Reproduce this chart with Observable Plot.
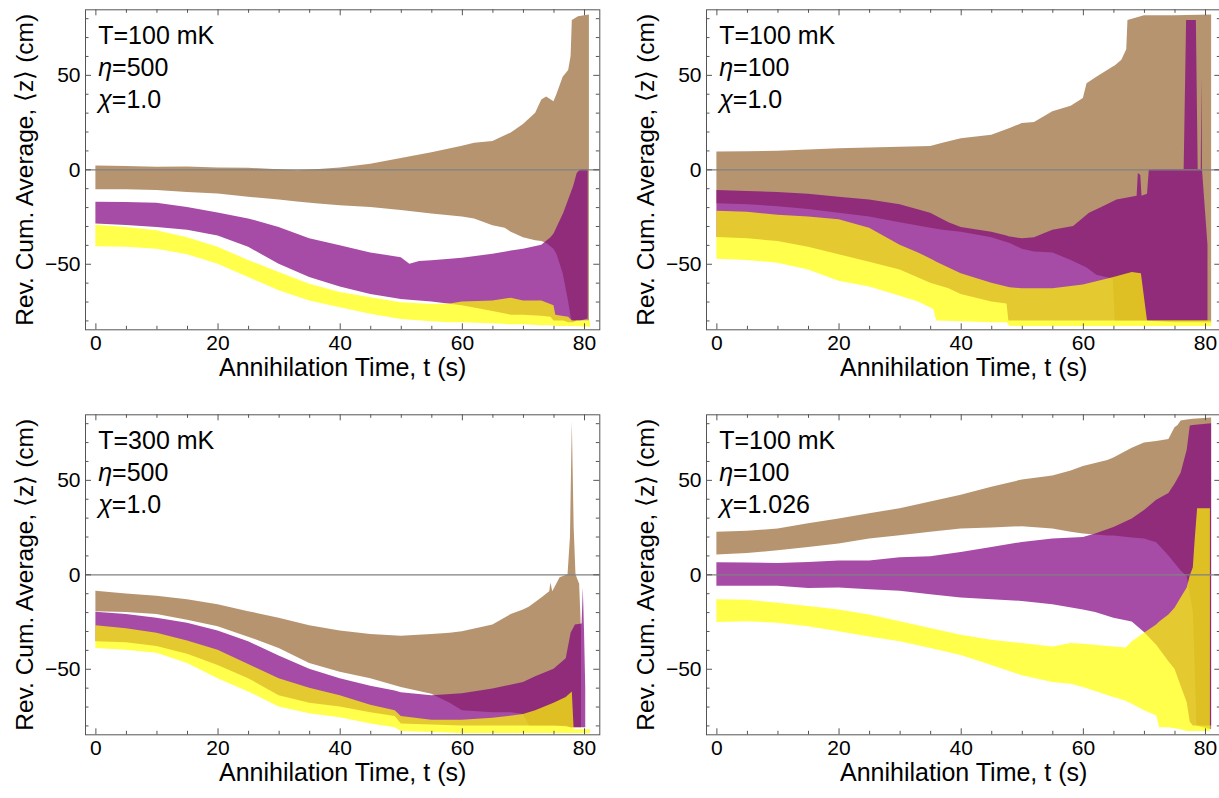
<!DOCTYPE html>
<html><head><meta charset="utf-8">
<script src="https://cdn.jsdelivr.net/npm/d3@7"></script>
<script src="https://cdn.jsdelivr.net/npm/@observablehq/plot@0.6"></script>
<style>
html,body{margin:0;padding:0;background:#fff;overflow:hidden;}
#chart{position:relative;width:1219px;height:798px;overflow:hidden;}
#chart svg{position:absolute;overflow:visible;background:transparent;}
</style></head><body><div id="chart"></div>
<script>
// ---- axis ticks & titles ----
const xTicksMajor = [0, 20, 40, 60, 80];
const xTicksMinor = [5, 10, 15, 25, 30, 35, 45, 50, 55, 65, 70, 75];
const yTicksMajor = [-50, 0, 50];
const yTicksMinor = [-80, -70, -60, -40, -30, -20, -10, 10, 20, 30, 40, 60, 70, 80];
const xTitle = "Annihilation Time, t (s)";
const yTitle = "Rev. Cum. Average, \u27E8z\u27E9 (cm)";
const seriesColors = ["rgb(153,102,51)", "rgb(128,0,128)", "rgb(255,255,0)"]; // Brown, Purple, Yellow

// ---- panel annotations ----
const p1Label = ["T=100 mK", "η=500", "χ=1.0"];
const p2Label = ["T=100 mK", "η=100", "χ=1.0"];
const p3Label = ["T=300 mK", "η=500", "χ=1.0"];
const p4Label = ["T=100 mK", "η=100", "χ=1.026"];

// ---- bands: [t, low, high] ----
const p1Brown = [[0,-10.5,2],[5,-10.5,1.8],[10,-11,1.4],[15,-12,1.5],[20,-12.8,1],[25,-14.5,0.8],[30,-16,0],[33,-17,-0.5],[36,-18,0],[40,-19,1],[45,-20,3],[50,-21.6,6],[55,-23.4,9],[60,-25,12.5],[62,-26,14],[65,-29.6,15],[67,-31,18],[68,-33,19.5],[70,-36,24],[72,-37.5,30],[73,-38,37],[73.8,-39,38.5],[75,-42,36],[75.5,-45,40],[76.5,-55,49],[77.4,-70,52.6],[77.8,-78,60],[78,-80,79],[79,-80,81],[80.8,-80,82]];
const p1Purple = [[0,-28.7,-17.2],[5,-29.5,-17.3],[10,-30.5,-17.7],[15,-32,-19.9],[20,-35,-22.9],[25,-41,-26],[30,-50,-30.5],[35,-57,-36.5],[40,-62,-40.2],[45,-66,-44],[50,-68.6,-46.5],[51.4,-69,-50],[53,-69.5,-48.5],[55,-70,-48.2],[60,-72,-46.8],[65,-75,-44.7],[68,-77,-43],[70,-77,-42],[73,-77.5,-40],[74.5,-78,-36],[75,-80,-34],[76.6,-80,-23],[77.4,-81,-16],[78.2,-81,-9],[78.8,-80,-2],[79.4,-80,0],[80.6,-79,0]];
const p1Yellow = [[0,-40.8,-29.3],[5,-41,-30.5],[10,-42,-32.3],[15,-45,-36],[20,-50,-41],[25,-57,-48],[30,-64,-54.4],[35,-69.5,-60.6],[40,-73,-65],[45,-76.5,-67.7],[50,-79.3,-70.4],[55,-80.5,-71.3],[58,-81,-71],[60,-81,-70],[65,-81.5,-69.5],[68,-82,-68],[70,-82,-69.5],[73,-82.5,-69.5],[75,-82.5,-72],[75.3,-83,-77],[77.4,-83,-78],[78,-83,-80],[81,-83.3,-80]];

const p2Brown = [[0,-18,9.4],[5,-18.5,9.5],[10,-19.5,9.8],[15,-21,10.5],[20,-23,11.2],[25,-25,11.5],[30,-28,12],[35,-31,12.4],[37,-32,14],[40,-33,16.5],[45,-36,18.3],[48,-39,21.8],[50,-42,24.5],[52,-43.5,25],[55,-44,30.7],[58,-48,33.7],[60,-51,37.8],[60.6,-52,45.6],[62.2,-55.8,49],[64.9,-58,54.4],[65.2,-80,55],[66.3,-80,58],[67.1,-80,63.5],[67.3,-80,79],[70,-80,81.5],[75,-81,81.5],[81,-81,82]];
const p2Purple = [[0,-35.8,-11],[5,-36.5,-11.5],[10,-38,-12],[15,-41,-13],[20,-45,-14.5],[25,-49,-16],[30,-53,-18.5],[35,-60,-23],[38,-63,-28],[40,-66,-30.5],[45,-70,-33],[47.5,-71,-35],[47.8,-80,-35.5],[50,-80,-36.5],[52,-80,-36],[55,-80,-32],[58.4,-80,-30],[61,-80,-23],[63,-80,-20],[65.5,-80,-16],[68.8,-80,-14],[69,-80,-2],[69.4,-80,-3],[69.6,-80,-14],[70.5,-80,-13],[70.8,-80,0],[76.5,-80,0],[76.9,-80,79],[78.5,-80,79],[78.8,-80,0],[79.3,-80,0],[79.4,-80,49],[79.5,-80,0],[80.4,-80,-40]];
const p2Yellow = [[0,-47.3,-22],[5,-48,-22.5],[10,-49.5,-24],[15,-53,-25],[20,-59,-26.5],[25,-62,-31],[30,-67,-40],[33,-70,-44],[35.5,-74,-48],[36,-80,-49],[40,-80.5,-55],[45,-81,-60],[47.5,-81,-62],[48,-83,-62.5],[50,-83,-63],[55,-83,-63],[60,-83,-61],[65,-83,-57],[68,-83,-54.4],[69.5,-83,-55],[70.5,-83,-80],[81,-83,-80]];

const p3Brown = [[0,-19.5,-8.75],[5,-20,-10.2],[10,-21,-11.4],[15,-24,-13.2],[20,-27.5,-15.9],[25,-33,-19.5],[30,-39,-23],[35,-47,-27],[40,-51.6,-29.8],[45,-55,-31.6],[50,-59.6,-32.5],[55,-63.2,-31.6],[58,-68,-31],[60,-72,-30.2],[65,-73,-26.6],[68,-73,-21],[70,-74,-18.6],[71,-80,-17],[73,-80,-12.3],[74.3,-80,-9],[74.5,-80,-4.3],[74.8,-80,-9],[76,-80,-1.6],[77.3,-80,0],[77.7,-81,20],[78,-81,81],[78.3,-81,25],[78.6,-81,0],[79.2,-81,-5],[79.5,-81,-30]];
const p3Purple = [[0,-35.5,-19.8],[5,-36,-21],[10,-38,-23],[15,-42,-25.7],[20,-48,-29.8],[25,-55,-35.5],[30,-64,-43],[35,-68,-50],[40,-70,-55],[45,-73,-59],[49,-75,-61.5],[50,-79,-62.5],[55,-79.5,-64],[60,-80,-63],[65,-80,-60.5],[70,-80,-57],[72,-80,-54],[75,-80,-50],[77,-80.5,-44.5],[77.8,-81,-31],[78.5,-81,-26.6],[79.6,-81,-26],[79.8,-81,-7],[80,-81,-30],[80.2,-81,-60]];
const p3Yellow = [[0,-39,-27],[5,-40,-28.5],[10,-41.5,-31],[15,-47,-35],[20,-55,-40],[25,-62,-47.5],[30,-70,-55],[35,-73.5,-60],[40,-75.7,-64],[45,-79,-69],[49,-81,-72],[50,-83,-75],[55,-83.5,-77],[60,-84,-77],[65,-84,-76],[70,-84,-74],[72,-84,-72],[75,-84,-68],[77,-84,-65],[78,-84,-62],[78.3,-84,-82],[81,-84,-82]];

const p4Brown = [[0,10.5,22.5],[5,11.3,23],[10,12.7,24.3],[15,14.5,27],[20,16.3,29.6],[25,19,32.3],[30,20.7,35],[35,22.5,38.6],[40,24.3,42.1],[45,24.8,46.3],[50,25.5,50.2],[55,24.3,52.3],[58,22.5,55],[60,21.6,57.3],[64,20.5,60.5],[65,20.5,61.8],[68,19.5,67],[70,19,69.8],[72,17,70.5],[74,10,71.6],[75,6,77.9],[75.5,4,79],[76,2,81.4],[77,-1,82],[78,-20,82.3],[78.6,-80,82.5],[81,-82,83]];
const p4Purple = [[0,-6,6.4],[5,-6,6.2],[10,-6,6],[15,-7.3,6.5],[20,-7,7.3],[25,-7.9,7.3],[30,-8.75,9],[35,-10.5,9.5],[40,-12.3,11.8],[45,-13.2,14.5],[50,-14.1,17.1],[55,-15.9,19],[60,-18.6,19.8],[62,-20,21.6],[65,-23,25],[68,-25,29.6],[70,-30.5,34],[72,-37.3,39.5],[74,-46,43],[75,-50,48],[76,-59,53.8],[77,-67.7,66],[77.5,-78,78.8],[78,-80,79],[81,-80,80]];
const p4Yellow = [[0,-25.2,-13.2],[5,-24.8,-13.5],[10,-25.7,-15],[15,-27.5,-16.8],[20,-30.2,-18.6],[25,-32.9,-21.25],[30,-35.5,-24.8],[35,-39,-28.4],[40,-42.7,-32],[45,-48,-34.6],[50,-53.4,-36.4],[55,-57,-38.2],[58,-58,-36.4],[60,-59.6,-36.8],[65,-65,-38.2],[67,-67,-38.75],[68,-68.5,-35.5],[70,-72,-31],[72,-74.8,-26.6],[72.5,-81,-25],[74,-81,-21.25],[75,-81.5,-17.7],[76,-82,-12.3],[77,-82.9,-7],[77.5,-83,-0.7],[78,-83,3.75],[78.3,-83,18],[78.7,-83,35],[80.8,-83,35]];

// ---- layout ----
const W = 610, H = 400, ML = 85, MR = 10.7, MT = 9.3, MB = 70.7;
const FW = W - ML - MR, FH = H - MT - MB;
const FONT = '"Liberation Sans", Arial, Helvetica, sans-serif';
const FRAME = "#555";

function rows(arr) { return arr.map(([t, lo, hi]) => ({t, lo, hi})); }

function panel(bands, label, left, top) {
  const svg = Plot.plot({
    width: W, height: H,
    marginLeft: ML, marginRight: MR, marginTop: MT, marginBottom: MB,
    x: {domain: [-1.7, 82.5]},
    y: {domain: [-84.7, 84.7]},
    style: {fontFamily: FONT, fontSize: "21px", color: "#000", background: "transparent", overflow: "visible"},
    marks: [
      ...bands.map((b, i) => Plot.areaY(rows(b), {x: "t", y1: "lo", y2: "hi", fill: seriesColors[i], fillOpacity: 0.7, clip: true})),
      Plot.ruleY([0], {stroke: "#808080", strokeWidth: 1.3}),
      Plot.frame({stroke: FRAME, strokeWidth: 1}),
      Plot.tickX(xTicksMajor, {x: d => d, insetTop: FH - 6, stroke: FRAME}),
      Plot.tickX(xTicksMajor, {x: d => d, insetBottom: FH - 6, stroke: FRAME}),
      Plot.tickX(xTicksMinor, {x: d => d, insetTop: FH - 3.5, stroke: FRAME}),
      Plot.tickX(xTicksMinor, {x: d => d, insetBottom: FH - 3.5, stroke: FRAME}),
      Plot.tickY(yTicksMajor, {y: d => d, insetRight: FW - 6, stroke: FRAME}),
      Plot.tickY(yTicksMajor, {y: d => d, insetLeft: FW - 6, stroke: FRAME}),
      Plot.tickY(yTicksMinor, {y: d => d, insetRight: FW - 3.5, stroke: FRAME}),
      Plot.tickY(yTicksMinor, {y: d => d, insetLeft: FW - 3.5, stroke: FRAME}),
      Plot.axisX(xTicksMajor, {tickSize: 0, tickPadding: 5, fontSize: 21, label: null}),
      Plot.axisY(yTicksMajor, {tickSize: 0, tickPadding: 5, fontSize: 21, label: null}),
      Plot.text([xTitle], {frameAnchor: "bottom", dy: 46, fontSize: 25, textAnchor: "middle", fill: "#000"}),
      Plot.text([yTitle], {frameAnchor: "left", dx: -60, rotate: -90, fontSize: 24.5, textAnchor: "middle", fill: "#000"}),
      Plot.text([label.join("\n")], {frameAnchor: "top-left", dx: 12.7, dy: 12, fontSize: 25, textAnchor: "start", lineAnchor: "top", lineHeight: 1.27, fill: "#000"})
    ]
  });
  // italic Greek symbols
  svg.querySelectorAll("tspan, text").forEach(el => {
    if (el.childNodes.length === 1 && el.firstChild.nodeType === 3) {
      const s = el.textContent;
      if (s.startsWith("η") || s.startsWith("χ")) {
        const it = document.createElementNS("http://www.w3.org/2000/svg", "tspan");
        it.setAttribute("font-style", "italic");
        it.textContent = s[0];
        el.textContent = "";
        el.appendChild(it);
        el.appendChild(document.createTextNode(s.slice(1)));
      }
    }
  });
  svg.style.left = left + "px";
  svg.style.top = top + "px";
  document.getElementById("chart").appendChild(svg);
}

panel([p1Brown, p1Purple, p1Yellow], p1Label, 0, 0);
panel([p2Brown, p2Purple, p2Yellow], p2Label, 620.7, 0);
panel([p3Brown, p3Purple, p3Yellow], p3Label, -0.3, 405);
panel([p4Brown, p4Purple, p4Yellow], p4Label, 620.7, 405);
</script></body></html>
